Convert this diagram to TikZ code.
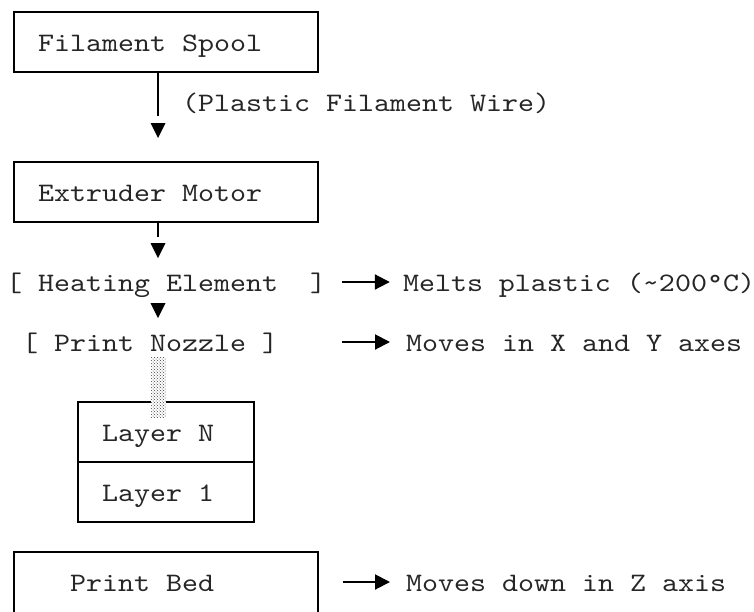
\documentclass[tikz,border=0pt]{standalone}
\usepackage{fontspec}
\setmonofont{lmmono10-regular.otf}[FakeStretch=1.1428]
\usetikzlibrary{arrows.meta,patterns,calc}

\begin{document}
\begin{tikzpicture}[
    x=16pt, y=-30pt,
    frame/.style={draw=black, line width=2pt, inner sep=0pt},
    label/.style={anchor=base west, inner sep=0pt, text=black!85,
                  font=\ttfamily\fontsize{26.67pt}{30pt}\selectfont},
    wire/.style={draw=black, line width=2pt},
    downtip/.style={fill=black},
    side/.style={line width=2pt, -{Triangle[length=15pt,width=15pt]}},
    stream/.style={inner sep=0pt, minimum width=15pt, minimum height=60pt,
                   preaction={fill=white}, pattern=crosshatch dots,
                   pattern color=black!75}
  ]
  % page: the grid origin is the centre of the first character cell
  \useasboundingbox (-14pt,12pt) rectangle (740pt,-599pt);

  % filament spool
  \node[frame, minimum width=304pt, minimum height=60pt] (spoolbox) at (9.5,1) {};
  \node[label] (spool) at (1.5,1.3) {Filament Spool};
  \node[label] (wirenote) at (10.5,3.3) {(Plastic Filament Wire)};

  % extruder motor
  \node[frame, minimum width=304pt, minimum height=60pt] (motorbox) at (9.5,6) {};
  \node[label] (motor) at (1.5,6.3) {Extruder Motor};

  % heating element and nozzle lines
  \node[label] (heat) at (-0.5,9.3) {[ Heating Element\ \ ]};
  \node[label] (melts) at (24.3,9.3) {Melts plastic (\textasciitilde200°C)};
  \node[label] (nozzle) at (0.5,11.3) {[ Print Nozzle ]};
  \node[label] (movesxy) at (24.5,11.3) {Moves in X and Y axes};

  % printed layers
  \node[frame, minimum width=176pt, minimum height=60pt] (layerNbox) at (9.5,14) {};
  \node[frame, minimum width=176pt, minimum height=60pt] (layer1box) at (9.5,16) {};
  \node[label] (layerN) at (5.5,14.3) {Layer N};
  \node[label] (layer1) at (5.5,16.3) {Layer 1};

  % molten plastic leaving the nozzle
  \node[stream] (flow) at (9,12.5) {};

  % print bed (runs off the bottom edge)
  \node[frame, minimum width=304pt, minimum height=90pt] (bedbox) at (9.5,19.5) {};
  \node[label] (bed) at (3.5,19.3) {Print Bed};
  \node[label] (movesz) at (24.5,19.3) {Moves down in Z axis};

  % vertical feed path
  \coordinate (stemcol) at (9,0);
  \coordinate (wireAend) at (9,3.45);
  \coordinate (tipA) at (9,4.2);
  \coordinate (wireBend) at (9,7.5);
  \coordinate (tipB) at (9,8.2);
  \coordinate (tipC) at (9,10.2);

  \draw[wire] (spoolbox.south -| stemcol) -- (wireAend);
  \draw[wire] (motorbox.south -| stemcol) -- (wireBend);
  \foreach \t in {tipA,tipB,tipC}
    \fill[downtip] (\t) -- ++(-7.5pt,15pt) -- ++(15pt,0pt) -- cycle;

  % side notes
  \draw[side] ([shift={(16pt,9pt)}]heat.base east) -- ([shift={(-13pt,9pt)}]melts.base west);
  \draw[side] ([shift={(64pt,9pt)}]nozzle.base east) -- ([shift={(-16pt,9pt)}]movesxy.base west);
  \draw[side] ($(bedbox.east |- movesz.base west)+(24pt,9pt)$) -- ([shift={(-16pt,9pt)}]movesz.base west);
\end{tikzpicture}
\end{document}
